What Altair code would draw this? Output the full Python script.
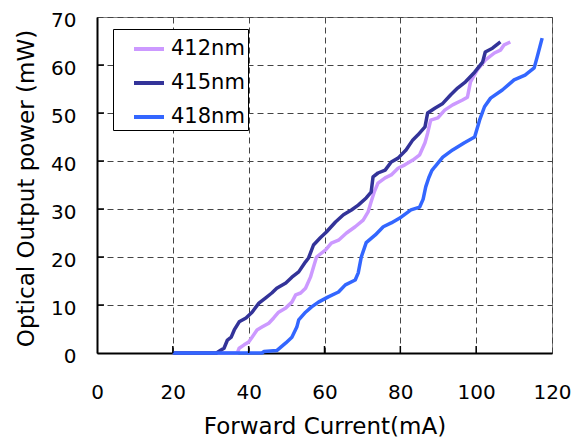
import altair as alt
import pandas as pd

# 412nm series
x412 = [20, 37, 37.5, 38.8, 40, 40.9, 42.2, 43.5, 45.3, 46.6, 47.9, 49.8, 51.4, 52.4, 53.7, 55, 56.3, 57.1, 57.9,
        60.3, 61.8, 63.7, 65.8, 68.1, 70.2, 71.5, 72.3, 73.1, 74.1, 76, 77.6, 79.4, 81.2, 83.3, 85.1, 86.5, 87.2,
        88, 89.9, 91.7, 93.8, 96.4, 97.7, 98.5, 100.3, 102.4, 104.8, 106.4, 107.4, 109]
y412 = [0, 0, 1, 1.7, 2.3, 3.3, 4.8, 5.4, 6.2, 7.3, 8.5, 9.4, 10.6, 12.1, 12.5, 13.5, 15.8, 17.9, 20,
        21.5, 22.9, 23.5, 25, 26.3, 27.7, 29.4, 31.5, 33.5, 35.4, 36.5, 37.1, 38.5, 39.2, 40.2, 41.3, 43.8, 45.8,
        48.5, 49, 50.6, 51.7, 52.7, 53.3, 56.5, 59, 61, 62.5, 63.1, 64.2, 64.8]

# 415nm series
x415 = [20, 31.5, 32.5, 33.5, 34.4, 35.4, 36.2, 37.5, 39.3, 40.9, 42.7, 44.5, 46.1, 47.4, 49.8, 51.4, 53.2, 55,
        55.8, 57.1, 58.9, 60.5, 62.9, 65, 67.1, 68.9, 71, 72.3, 72.8, 74.1, 76, 77.6, 79.4, 81.5, 83.3, 84.6,
        86.5, 87.2, 89.1, 91.2, 93.3, 95.1, 97.2, 99.6, 101.7, 102.4, 104.3, 106.4]
y415 = [0, 0, 0.5, 1, 2.7, 3.3, 4.8, 6.5, 7.3, 8.5, 10.4, 11.5, 12.5, 13.5, 14.6, 15.8, 16.9, 19,
        19.8, 22.5, 24, 25.2, 27.3, 28.8, 29.8, 30.8, 32.3, 33.5, 36.7, 37.5, 38.1, 39.8, 40.6, 42.3, 44.4, 45.4,
        47.1, 50, 51, 52, 53.8, 55.2, 56.5, 58.5, 60.6, 62.7, 63.5, 64.8]

# 418nm series
x418 = [20, 43.5, 44, 47.4, 49.8, 51.4, 52.7, 53.2, 55, 56.6, 58.4, 61, 63.7, 65.5, 68.1, 68.9, 69.7, 71, 73.4,
        75.5, 77.6, 80.2, 82.8, 85.1, 86, 86.7, 87.5, 88.3, 89.1, 91.2, 93.8, 96.9, 99.6, 100.9, 102.2, 103.8,
        106.9, 110, 112.9, 115.3, 116.1, 117.4]
y418 = [0, 0, 0.3, 0.5, 2.1, 3.3, 5.4, 6.9, 8.5, 9.6, 10.6, 11.7, 12.7, 14.2, 15.2, 16.7, 20, 23, 24.6,
        26.3, 27.1, 28.3, 29.8, 30.4, 32, 34.6, 36.5, 38, 38.8, 40.8, 42.3, 43.8, 45, 48.5, 51.3, 53.1,
        54.8, 56.9, 57.9, 59.4, 61.7, 65.6]

series_names = ["412nm", "415nm", "418nm"]
series_colors = ["#CC99FF", "#333399", "#3366FF"]
x_ticks = [0, 20, 40, 60, 80, 100, 120]
y_ticks = [0, 10, 20, 30, 40, 50, 60, 70]

rows = []
for name, xs, ys in zip(series_names, [x412, x415, x418], [y412, y415, y418]):
    for i, (a, b) in enumerate(zip(xs, ys)):
        rows.append({"series": name, "current": a, "power": b, "idx": i})
df = pd.DataFrame(rows)

FONT = "DejaVu Sans"
W, H = 455, 336

xscale = alt.Scale(domain=[0, 120], nice=False, zero=False)
yscale = alt.Scale(domain=[0, 70], nice=False, zero=False)

xaxis = alt.Axis(values=x_ticks, title="Forward Current(mA)", ticks=False, labelFlush=False,
                 labelPadding=29, titleBaseline="alphabetic", titleY=80)
yaxis = alt.Axis(values=y_ticks, title="Optical Output power (mW)", ticks=False, labelFlush=False,
                 labelPadding=21, labelOffset=3, titleBaseline="alphabetic", titleX=-64, titleY=171,
                 titleAngle=270, titleAlign="center")

lines = alt.Chart(df).mark_line(strokeWidth=3.5, strokeJoin="round").encode(
    x=alt.X("current:Q", scale=xscale, axis=xaxis),
    y=alt.Y("power:Q", scale=yscale, axis=yaxis),
    color=alt.Color("series:N", scale=alt.Scale(domain=series_names, range=series_colors),
                    legend=alt.Legend(orient="none", legendX=16, legendY=12, title=None,
                                      symbolType="stroke", symbolSize=900, symbolStrokeWidth=4,
                                      labelFontSize=21, labelFont=FONT, labelColor="black",
                                      labelExpr="datum.label + '\u00a0\u00a0'",
                                      padding=3, rowPadding=7, symbolOffset=16, labelOffset=5,
                                      strokeColor="black", fillColor="white")),
    order="idx:Q",
)

xt = alt.Chart(pd.DataFrame({"current": x_ticks[1:-1]})).mark_rule(color="black", strokeWidth=1.5).encode(
    x=alt.X("current:Q", scale=xscale, axis=xaxis),
    y=alt.value(H), y2=alt.value(H - 7),
)
yt = alt.Chart(pd.DataFrame({"power": y_ticks[1:-1]})).mark_rule(color="black", strokeWidth=1.5).encode(
    y=alt.Y("power:Q", scale=yscale, axis=yaxis),
    x=alt.value(0), x2=alt.value(7),
)

chart = alt.layer(lines, xt, yt).properties(
    width=W, height=H,
    autosize=alt.AutoSizeParams(type="none"),
    padding={"left": 89, "top": 9, "right": 20, "bottom": 88},
).configure_view(
    stroke="#808080", strokeWidth=1
).configure_axis(
    labelFont=FONT, labelFontSize=20, labelColor="black",
    titleFont=FONT, titleFontSize=23, titleColor="black", titleFontWeight="normal",
    domainColor="black", domainWidth=2,
    grid=True, gridColor="#444444", gridDash=[6, 4], gridWidth=1,
)

chart.save("out.html", embed_options={"renderer": "svg", "actions": False})
